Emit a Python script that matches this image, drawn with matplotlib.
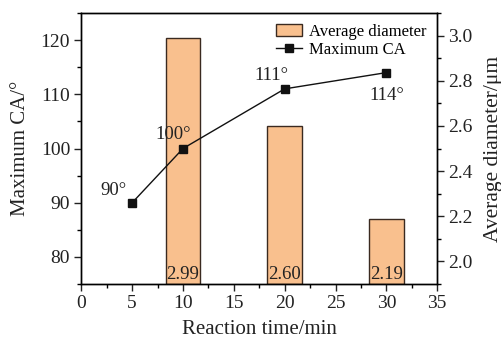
import numpy as np
import matplotlib.pyplot as plt
from matplotlib.ticker import MultipleLocator

plt.rcParams['font.family'] = ['Liberation Serif', 'DejaVu Serif']
plt.rcParams['font.size'] = 13

# data
bar_time = [10, 20, 30]
diameter = [2.99, 2.60, 2.19]
ca_time = [5, 10, 20, 30]
max_ca = [90, 100, 111, 114]
ca_labels = ['90°', '100°', '111°', '114°']

fig, ax = plt.subplots(figsize=(5.02, 3.41), dpi=100)
fig.subplots_adjust(left=0.162, right=0.871, top=0.962, bottom=0.167)
ax2 = ax.twinx()

# 柱状图放到右轴，折线放到左轴（左轴在上层）
bars = ax2.bar(bar_time, np.array(diameter) - 1.9, bottom=1.9, width=3.4,
               color='#f9c08e', edgecolor='#3a2a20', linewidth=1.0,
               label='Average diameter')
for x, d in zip(bar_time, diameter):
    ax2.text(x, 1.903, f'{d:.2f}', ha='center', va='bottom', fontsize=13.5, color='#222222')

ax.set_zorder(ax2.get_zorder() + 1)
ax.patch.set_visible(False)
line, = ax.plot(ca_time, max_ca, '-s', color='#111111', markersize=6, linewidth=1.0,
                label='Maximum CA')

offsets = [(-1.8, 2.2), (-1.0, 2.5), (-1.3, 2.5), (0.0, -4.3)]
for x, y, s, (dx, dy) in zip(ca_time, max_ca, ca_labels, offsets):
    ax.text(x + dx, y + dy, s, ha='center', va='center', fontsize=13.5, color='#222222')

ax.set_xlim(0, 35)
ax.set_ylim(75, 125)
ax2.set_ylim(1.9, 3.1)

ax.xaxis.set_major_locator(MultipleLocator(5))
ax.xaxis.set_minor_locator(MultipleLocator(2.5))
ax.yaxis.set_major_locator(MultipleLocator(10))
ax.yaxis.set_minor_locator(MultipleLocator(5))
ax2.yaxis.set_major_locator(MultipleLocator(0.2))
ax2.yaxis.set_minor_locator(MultipleLocator(0.1))
ax2.yaxis.set_major_formatter(plt.FormatStrFormatter('%.1f'))

for a in (ax, ax2):
    a.tick_params(which='major', direction='out', length=5, width=1.0, labelsize=14,
                  colors='#222222', pad=3)
    a.tick_params(which='minor', direction='out', length=3, width=1.0)
    for sp in a.spines.values():
        sp.set_linewidth(1.0)

ax.set_xlabel('Reaction time/min', fontsize=15, color='#222222', labelpad=6)
ax.set_ylabel('Maximum CA/°', fontsize=15, color='#222222', labelpad=8)
ax2.set_ylabel('Average diameter/μm', fontsize=15.5, color='#222222', labelpad=8)

ax.legend([bars, line], ['Average diameter', 'Maximum CA'], loc='upper right',
          frameon=False, fontsize=12, handlelength=1.6, borderaxespad=0.25,
          labelspacing=0.15, handletextpad=0.4)

plt.savefig('out.png', dpi=100)
